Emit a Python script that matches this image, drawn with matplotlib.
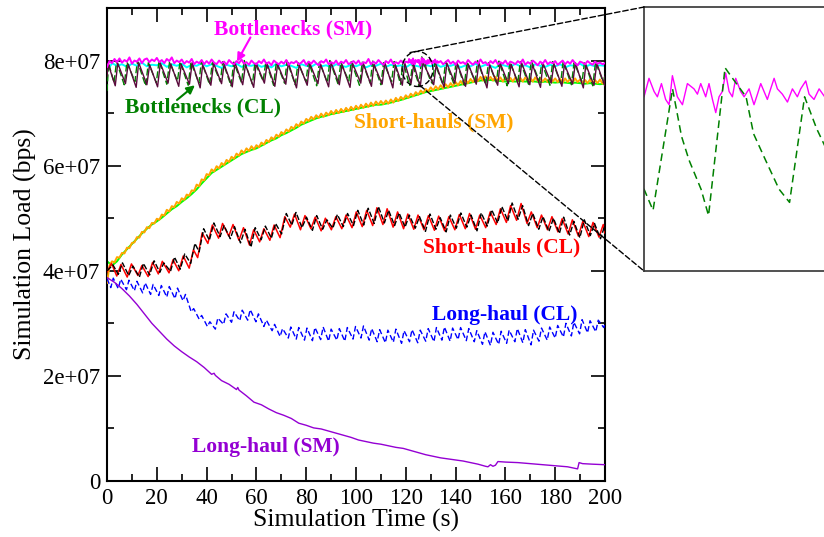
import matplotlib
matplotlib.use('Agg')
import matplotlib.pyplot as plt
import numpy as np
from matplotlib.patches import Ellipse, ConnectionPatch
from matplotlib.ticker import MultipleLocator, FuncFormatter

plt.rcParams['font.family'] = ['Liberation Serif', 'DejaVu Serif']

# all loads in units of 1e5 bps
# Bottlenecks (SM), magenta, 1 s samples + fine samples inside the zoomed window
mag_a = [788, 799, 795, 803, 797, 804, 796, 801, 798, 806,
         794, 800, 798, 804, 795, 802, 804, 797, 802, 799,
         805, 797, 801, 795, 803, 799, 806, 795, 800, 797,
         802, 794, 799, 796, 803, 793, 798, 795, 801, 793,
         799, 794, 802, 796, 793, 800, 795, 798, 792, 801,
         796, 793, 799, 795, 802, 794, 797, 792, 800, 795,
         793, 799, 795, 802, 794, 797, 791, 800, 796, 793,
         798, 794, 801, 792, 797, 795, 799, 793, 796, 801,
         792, 798, 794, 800, 795, 791, 799, 796, 802, 793,
         797, 794, 800, 792, 798, 795, 801, 793, 796, 799,
         794, 800, 792, 797, 795, 803, 793, 798, 794, 801,
         796, 792, 799, 795, 802, 793, 797, 794, 800, 795,
         798]
mag_fine_t = [121.0, 121.33, 121.67, 121.89, 122.16, 122.44, 122.67, 122.89, 123.22, 123.56,
              123.89, 124.33, 124.56, 124.78, 125.11, 125.33, 125.56, 125.78, 126.0, 126.22,
              126.44, 126.67, 126.89, 127.11, 127.44, 127.67, 128.0, 128.33, 128.56, 128.78,
              129.0, 129.22, 129.44, 129.67, 129.89, 130.22, 130.56, 130.89, 131.22, 131.44,
              131.78, 132.0, 132.33, 132.67, 133.04]
mag_fine_v = [796, 803, 798, 796, 801, 795, 793, 804, 796, 793,
              801, 799, 797, 801, 796, 801, 795, 790, 796, 798,
              805, 798, 796, 803, 798, 796, 799, 793, 797, 801,
              798, 795, 799, 803, 799, 797, 794, 799, 796, 799,
              802, 797, 795, 799, 796]
mag_c = [799, 793, 797, 801, 794, 798, 792, 800, 795, 797,
         793, 801, 796, 792, 798, 794, 802, 795, 797, 791,
         799, 795, 801, 793, 797, 794, 800, 792, 798, 796,
         793, 799, 795, 802, 792, 797, 794, 800, 796, 791,
         798, 794, 801, 793, 797, 795, 799, 792, 796, 800,
         793, 798, 794, 801, 795, 791, 798, 796, 793, 799,
         795, 792, 798, 794, 796, 793, 795]

# second SM bottleneck trace (cyan), 2 s samples
cyan_v = [780, 795, 790, 793, 788, 794, 790, 796, 789, 792,
          791, 795, 788, 793, 790, 794, 787, 792, 790, 795,
          789, 793, 790, 786, 792, 789, 794, 788, 791, 790,
          793, 788, 791, 787, 794, 789, 792, 790, 786, 793,
          790, 788, 794, 789, 791, 787, 793, 790, 788, 792,
          789, 793, 787, 791, 790, 794, 788, 792, 789, 791,
          787, 793, 790, 788, 792, 789, 794, 788, 791, 790,
          793, 787, 791, 789, 794, 788, 792, 790, 786, 793,
          790, 788, 794, 789, 791, 787, 793, 790, 788, 792,
          789, 793, 787, 791, 790, 794, 788, 792, 789, 791,
          790]

# Bottlenecks (CL): green dashed, vertices
bcl_t = [0, 0.6, 2.8, 3.8, 6.9, 8.0, 11.2, 12.2, 15.5, 16.6, 19.8, 20.9, 24.0, 25.1, 28.3, 29.3,
         32.6, 33.7, 36.9, 37.9, 41.2, 42.3, 45.5, 46.5, 49.8, 50.9, 54.0, 55.1, 58.4, 59.4,
         62.7, 63.8, 66.9, 68.0, 71.3, 72.3, 75.6, 76.7, 79.9, 80.9, 84.2, 85.3, 88.5, 89.5,
         92.8, 93.9, 97.1, 98.1, 101.4, 102.5, 105.7, 106.7, 110.0, 111.1, 114.3, 115.3,
         117.9, 118.9, 121.0, 121.6, 122.9, 123.5, 124.0, 124.8, 125.3, 126.4, 126.9, 127.8,
         128.3, 129.1, 130.0, 130.7, 131.7, 132.5, 133.0, 134.9, 136.0, 139.2, 140.2, 143.5,
         144.6, 147.8, 148.8, 152.1, 153.2, 156.4, 157.4, 160.7, 161.8, 165.0, 166.0, 169.3,
         170.4, 173.6, 174.6, 177.9, 179.0, 182.2, 183.2, 186.5, 187.6, 190.8, 191.8, 195.1,
         196.2, 199.4, 200]
bcl_v = [742, 795, 758, 798, 754, 797, 760, 799, 752, 796, 758, 800, 755, 797, 761, 798,
         753, 797, 757, 799, 754, 796, 760, 798, 752, 797, 758, 800, 755, 796,
         761, 798, 753, 797, 757, 799, 754, 796, 760, 798, 752, 797, 758, 800,
         755, 796, 761, 798, 753, 797, 757, 799, 754, 796, 760, 798,
         755, 799, 761, 753, 799, 781, 772, 761, 751, 807, 803, 796,
         782, 772, 761, 756, 796, 784, 778, 754, 798, 757, 799, 753,
         797, 760, 800, 754, 796, 758, 799, 752, 797, 759, 798, 755,
         800, 761, 796, 753, 798, 757, 799, 754, 796, 760, 798, 752,
         797, 758, 775]

# second CL bottleneck trace (dark maroon)
mar_t = [0, 0.4, 3.3, 4.3, 7.4, 8.5, 11.7, 12.7, 16.0, 17.1, 20.3, 21.4, 24.5, 25.6, 28.8, 29.8,
         33.1, 34.2, 37.4, 38.4, 41.7, 42.8, 46.0, 47.0, 50.3, 51.4, 54.5, 55.6, 58.9, 59.9,
         63.2, 64.3, 67.4, 68.5, 71.8, 72.8, 76.1, 77.2, 80.4, 81.4, 84.7, 85.8, 89.0, 90.0,
         93.3, 94.4, 97.6, 98.6, 101.9, 103.0, 106.2, 107.2, 110.5, 111.6, 114.8, 115.8,
         118.6, 119.6, 122.1, 123.2, 125.8, 126.9, 131.2, 132.2, 135.4, 136.5, 139.7, 140.7,
         144.0, 145.1, 148.3, 149.3, 152.6, 153.7, 156.9, 157.9, 161.2, 162.3, 165.5, 166.5,
         169.8, 170.9, 174.1, 175.1, 178.4, 179.5, 182.7, 183.7, 187.0, 188.1, 191.3, 192.3,
         195.6, 196.7, 199.9, 200]
mar_v = [770, 794,
         752, 795, 756, 793, 749, 796, 754, 792, 750, 795,
         757, 794, 751, 793, 755, 796, 748, 792, 753, 795,
         756, 793, 750, 796, 754, 792, 749, 795, 757, 794,
         751, 793, 755, 796, 748, 792, 753, 795, 756, 793,
         750, 796, 754, 792, 749, 795, 757, 794, 751, 793,
         755, 796, 748, 792, 753, 795, 756, 793, 750, 796,
         754, 792, 749, 795, 757, 794, 751, 793, 755, 796,
         748, 792, 753, 795, 756, 793, 750, 796, 754, 792,
         749, 795, 757, 794, 751, 793, 755, 796, 748, 792,
         753, 795, 752, 770]

# Short-hauls (SM): orange, 1 s samples
sh_sm = [377, 410, 418, 416, 426, 425, 434, 433, 444, 443,
         453, 454, 464, 463, 474, 473, 483, 481, 491, 490,
         499, 497, 507, 505, 516, 513, 523, 521, 531, 528,
         538, 535, 545, 543, 553, 552, 564, 561, 574, 572,
         584, 582, 593, 589, 599, 595, 605, 601, 611, 607,
         617, 613, 623, 619, 629, 624, 633, 628, 637, 631,
         639, 635, 644, 640, 649, 645, 654, 650, 659, 655,
         664, 660, 669, 665, 674, 670, 679, 675, 684, 680,
         689, 685, 693, 688, 696, 691, 699, 693, 701, 696,
         704, 698, 706, 700, 708, 702, 710, 704, 712, 706,
         714, 708, 716, 710, 718, 712, 720, 714, 722, 716,
         723, 717, 724, 718, 726, 720, 729, 723, 731, 726,
         734, 729, 737, 732, 740, 735, 743, 738, 746, 741,
         749, 743, 751, 745, 753, 747, 755, 749, 757, 751,
         759, 753, 761, 755, 763, 757, 765, 759, 767, 761,
         769, 762, 770, 763, 769, 762, 769, 761, 768, 760,
         768, 761, 767, 760, 768, 761, 767, 760, 768, 761,
         767, 760, 768, 761, 767, 760, 766, 759, 767, 760,
         766, 759, 765, 758, 766, 759, 765, 758, 766, 759,
         764, 757, 763, 757, 764, 756, 763, 757, 764, 756,
         760]
# second SM short-haul trace (lime), 2 s samples
lime_v = [418, 410, 418, 431, 441, 451, 461, 471, 480, 488,
          494, 501, 509, 517, 523, 531, 538, 546, 555, 566,
          576, 586, 592, 598, 604, 610, 616, 622, 626, 630,
          633, 638, 643, 648, 652, 658, 662, 667, 672, 678,
          682, 686, 690, 693, 695, 698, 700, 702, 704, 706,
          708, 710, 712, 714, 716, 716, 718, 720, 723, 725,
          728, 731, 734, 737, 740, 742, 744, 746, 748, 750,
          752, 754, 756, 758, 760, 762, 763, 763, 762, 761,
          760, 761, 760, 761, 760, 761, 760, 759, 760, 759,
          758, 759, 758, 757, 758, 757, 756, 757, 756, 755,
          756]

# Short-hauls (CL): red and black vertices
red_t = [0, 1.8, 3.9, 5.6, 8.1, 9.8, 12.4, 14.0, 16.5, 18.3, 20.6, 22.2, 24.9, 26.5, 28.8, 30.6,
         33.0, 34.7, 36.4, 38.2, 40.5, 42.3, 44.8, 46.4, 48.9, 50.6, 53.0, 54.8, 57.2, 58.9,
         61.3, 63.0, 65.4, 67.1, 69.5, 71.4, 73.6, 75.3, 77.7, 79.5, 81.9, 83.6, 86.0, 87.7,
         90.1, 91.9, 94.3, 96.0, 98.4, 100.1, 102.5, 104.3, 106.7, 108.4, 110.8, 112.5,
         114.9, 116.7, 119.1, 120.8, 123.2, 124.9, 127.3, 129.1, 131.5, 133.2, 135.6, 137.3,
         139.7, 141.5, 143.9, 145.6, 148.0, 149.7, 152.1, 153.9, 156.3, 158.0, 160.4, 162.1,
         164.5, 166.3, 168.7, 170.4, 172.8, 174.5, 176.9, 178.7, 181.1, 182.8, 185.2, 186.9,
         189.3, 191.1, 193.5, 195.2, 197.6, 199.3, 200]
red_v = [398, 414, 390, 412, 388, 413, 391, 410, 389, 416, 394, 418, 396, 421, 400, 428,
         405, 440, 425, 472, 452, 487, 462, 490, 466, 488, 458, 482, 449, 478,
         455, 480, 458, 487, 463, 503, 483, 508, 478, 505, 480, 502, 476, 500,
         478, 503, 480, 506, 482, 512, 484, 515, 486, 520, 488, 518,
         483, 512, 480, 508, 479, 506, 478, 505, 477, 504, 476, 503,
         478, 507, 480, 509, 479, 506, 482, 512, 488, 518, 492, 524,
         496, 528, 490, 512, 482, 506, 478, 503, 474, 499, 470, 497,
         466, 494, 465, 492, 464, 488, 472]
blk_t = [0, 2.4, 4.5, 6.2, 8.7, 10.4, 13.0, 14.6, 17.1, 18.9, 21.2, 22.8, 25.5, 27.1, 29.4, 31.2,
         33.6, 35.3, 37.0, 38.8, 41.1, 42.9, 45.4, 47.0, 49.5, 51.2, 53.6, 55.4, 57.8, 59.5,
         61.9, 63.6, 66.0, 67.7, 70.1, 72.0, 74.2, 75.9, 78.3, 80.1, 82.5, 84.2, 86.6, 88.3,
         90.7, 92.5, 94.9, 96.6, 99.0, 100.7, 103.1, 104.9, 107.3, 109.0, 111.4, 113.1,
         115.5, 117.3, 119.7, 121.4, 123.8, 125.5, 127.9, 129.7, 132.1, 133.8, 136.2, 137.9,
         140.3, 142.1, 144.5, 146.2, 148.6, 150.3, 152.7, 154.5, 156.9, 158.6, 161.0, 162.7,
         165.1, 166.9, 169.3, 171.0, 173.4, 175.1, 177.5, 179.3, 181.7, 183.4, 185.8, 187.5,
         189.9, 191.7, 194.1, 195.8, 198.2, 199.9, 200]
blk_v = [400, 411, 393, 415, 391, 409, 388, 414, 392, 419,
         397, 415, 399, 426, 403, 432, 414, 452, 436, 480,
         458, 491, 465, 486, 461, 484, 453, 479, 445, 482,
         459, 485, 462, 490, 470, 509, 487, 511, 482, 502,
         477, 505, 479, 497, 481, 507, 484, 509, 486, 515,
         487, 519, 490, 522, 491, 515, 486, 510, 483, 506,
         481, 503, 475, 508, 479, 501, 474, 506, 481, 510,
         483, 506, 476, 510, 485, 516, 491, 522, 495, 529,
         498, 524, 486, 509, 479, 503, 475, 500, 471, 502,
         468, 494, 463, 497, 467, 490, 461, 486, 475]

# Long-haul (CL): blue dashed vertices
lh_cl = [(0, 385), (1.5, 368), (2.5, 386), (4.5, 366), (5.5, 384), (7.8, 364), (8.8, 382),
         (11.0, 362), (12.0, 380), (14.3, 358), (15.3, 377), (17.5, 355), (18.5, 374),
         (20.8, 353), (21.8, 372), (24.0, 350), (25.0, 370), (27.3, 347), (28.3, 367),
         (30.5, 343), (31.5, 355), (33.8, 322), (34.8, 328), (37.0, 308), (38.0, 315),
         (40.3, 294), (41.3, 303), (43.5, 289), (44.5, 310), (46.8, 298), (47.8, 318),
         (50.0, 302), (51.0, 322), (53.3, 305), (54.3, 325), (56.5, 306), (57.5, 326),
         (59.8, 303), (60.8, 318), (63.0, 294), (64.0, 306), (66.3, 286), (67.3, 298),
         (69.5, 275), (70.5, 290), (72.8, 272), (73.8, 293), (76.0, 270), (77.0, 292),
         (79.3, 268), (80.3, 291), (82.5, 267), (83.5, 292), (85.8, 269), (86.8, 293),
         (89.0, 266), (90.0, 289), (92.3, 268), (93.3, 290), (95.5, 266), (96.5, 292),
         (98.8, 270), (99.8, 294), (102.0, 272), (103.0, 295), (105.3, 268), (106.3, 290),
         (108.5, 265), (109.5, 288), (111.8, 263), (112.8, 287), (115.0, 264), (116.0, 289),
         (118.3, 262), (119.3, 286), (121.5, 265), (122.5, 288), (124.8, 263), (125.8, 287),
         (128.0, 266), (129.0, 290), (131.3, 265), (132.3, 292), (134.5, 268), (135.5, 293),
         (137.8, 266), (138.8, 291), (141.0, 269), (142.0, 292), (144.3, 267), (145.3, 290),
         (147.5, 265), (148.5, 286), (150.8, 260), (151.8, 284), (154.0, 258), (155.0, 283),
         (157.3, 260), (158.3, 285), (160.5, 262), (161.5, 287), (163.8, 265), (164.8, 290),
         (167.0, 263), (168.0, 288), (170.3, 259), (171.3, 287), (173.5, 266), (174.5, 291),
         (176.8, 268), (177.8, 293), (180.0, 272), (181.0, 296), (183.3, 274), (184.3, 300),
         (186.5, 276), (187.5, 302), (189.8, 280), (190.8, 307), (193.0, 282), (194.0, 305),
         (196.3, 284), (197.3, 306), (199.5, 292), (200, 298)]

# Long-haul (SM): purple
lh_sm = [(0, 387), (3, 378), (6, 366), (9, 352), (12, 336), (15, 318), (18, 300), (21, 285),
         (24, 270), (27, 257), (30, 246), (33, 236), (36, 227), (39, 216), (42, 203), (43, 205),
         (43.5, 201), (46, 191), (49, 184), (52, 174), (52.5, 178), (53, 173), (56, 162),
         (59, 150), (62, 145), (65, 137), (68, 130), (71, 125), (74, 119), (77, 110), (80, 106),
         (83, 101), (86, 99), (89, 95), (92, 91), (95, 87), (98, 83), (101, 78), (104, 75),
         (107, 72), (110, 70), (113, 67), (116, 64), (119, 62), (122, 58), (125, 54), (128, 50),
         (131, 47), (134, 44), (137, 42), (140, 40), (143, 38), (146, 35), (149, 32), (152, 28),
         (153, 27), (154, 31), (155, 28), (156, 30), (157, 37), (160, 36), (165, 35), (170, 33),
         (175, 31), (180, 29), (185, 27), (189, 23), (189.6, 35), (191, 33), (195, 32), (200, 31)]

U = 1e5
t1 = np.arange(0, 201)
t2 = np.arange(0, 201, 2)
mag_t = np.concatenate([np.arange(0, 121), mag_fine_t, np.arange(134, 201)])
mag_v = np.concatenate([mag_a, mag_fine_v, mag_c]) * U

fig = plt.figure(figsize=(8.24, 5.37), dpi=100)
ax = fig.add_axes([0.1299, 0.1043, 0.6043, 0.8808])

ax.plot(t2, np.array(cyan_v) * U, color='#00ffff', lw=1.4, zorder=2)
ax.plot(t2, np.array(lime_v) * U, color='#00ff00', lw=1.4, zorder=2)
ax.plot(t1, np.array(sh_sm) * U, color='#ffa500', lw=1.4, zorder=3)
ax.plot(bcl_t, np.array(bcl_v) * U, color='#008000', lw=1.0, ls=(0, (5, 2)), zorder=4)
ax.plot(mar_t, np.array(mar_v) * U, color='#5a0a3c', lw=1.0, zorder=5)
ax.plot(mag_t, mag_v, color='#ff00ff', lw=1.4, zorder=6)
ax.plot(red_t, np.array(red_v) * U, color='#ff0000', lw=1.1, zorder=4)
ax.plot(blk_t, np.array(blk_v) * U, color='black', lw=1.0, ls=(0, (4, 1.5)), zorder=4)
lt, lv = zip(*lh_cl)
ax.plot(lt, np.array(lv) * U, color='#0000ff', lw=1.0, ls=(0, (4, 2)), zorder=4)
pt, pv = zip(*lh_sm)
ax.plot(pt, np.array(pv) * U, color='#9400d3', lw=1.0, zorder=4)

ax.set_xlim(0, 200)
ax.set_ylim(0, 9.0e7)
ax.xaxis.set_major_locator(MultipleLocator(20))
ax.xaxis.set_minor_locator(MultipleLocator(10))
ax.yaxis.set_major_locator(MultipleLocator(2e7))
ax.yaxis.set_minor_locator(MultipleLocator(1e7))
ax.yaxis.set_major_formatter(FuncFormatter(lambda v, p: '0' if v == 0 else '{:.0e}'.format(v)))
ax.tick_params(which='both', direction='in', top=True, right=True, width=1.2, labelsize=16.5, pad=5)
ax.tick_params(which='major', length=10)
ax.tick_params(which='minor', length=5)
for s in ax.spines.values():
    s.set_linewidth(1.5)
ax.set_xlabel('Simulation Time (s)', fontsize=18.5, labelpad=0)
ax.set_ylabel('Simulation Load (bps)', fontsize=18.5, labelpad=4)

tb = dict(fontsize=15.5, fontweight='bold', ha='center', va='center')
ax.text(74.7, 8.59e7, 'Bottlenecks (SM)', color='#ff00ff', **tb)
ax.text(38.6, 7.10e7, 'Bottlenecks (CL)', color='#008000', **tb)
ax.text(131.3, 6.82e7, 'Short-hauls (SM)', color='#ffa500', **tb)
ax.text(158.6, 4.44e7, 'Short-hauls (CL)', color='#ff0000', **tb)
ax.text(159.8, 3.16e7, 'Long-haul (CL)', color='#0000ff', **tb)
ax.text(63.9, 0.65e7, 'Long-haul (SM)', color='#9400d3', **tb)
ax.annotate('', xy=(52.2, 7.98e7), xytext=(57.6, 8.44e7),
            arrowprops=dict(arrowstyle='-|>', color='#ff00ff', lw=1.5, mutation_scale=12,
                            shrinkA=0, shrinkB=0), zorder=9)
ax.annotate('', xy=(35.3, 7.53e7), xytext=(28.1, 7.25e7),
            arrowprops=dict(arrowstyle='-|>', color='#008000', lw=1.5, mutation_scale=12,
                            shrinkA=0, shrinkB=0), zorder=9)

ax.add_patch(Ellipse((124.7, 7.84e7), 12.4, 0.667e7, fill=False, ls=(0, (4, 2)),
                     lw=1.0, color='black', zorder=8))

# zoomed inset
axins = fig.add_axes([0.7816, 0.4953, 0.2731, 0.4916])
axins.plot(mag_t, mag_v, color='#ff00ff', lw=1.0)
axins.plot(bcl_t, np.array(bcl_v) * U, color='#008000', lw=1.1, ls=(0, (5, 3)))
axins.set_xlim(121, 136)
axins.set_ylim(7.3e7, 8.3e7)
axins.set_xticks([])
axins.set_yticks([])
for s in axins.spines.values():
    s.set_linewidth(1.2)
    s.set_color('#333333')

for a_pt, b_pt in [((121.7, 8.152e7), (0, 1)), ((125.7, 7.524e7), (0, 0))]:
    cp = ConnectionPatch(xyA=a_pt, coordsA=ax.transData, xyB=b_pt, coordsB=axins.transAxes,
                         ls=(0, (4, 2)), lw=1.0, color='black')
    fig.add_artist(cp)

fig.savefig('out.png', dpi=100)
